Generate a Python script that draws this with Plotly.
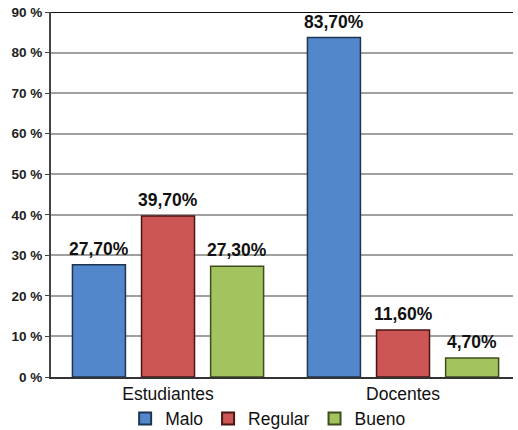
import plotly.graph_objects as go

categories = ["Estudiantes", "Docentes"]
series_names = ["Malo", "Regular", "Bueno"]
malo = [27.7, 83.7]
regular = [39.7, 11.6]
bueno = [27.3, 4.7]
values = [malo, regular, bueno]
colors = ["#5287CC", "#CC5555", "#A2C35E"]
edge_colors = ["#1F3450", "#4A1515", "#3D4D1C"]
y_ticks = [0, 10, 20, 30, 40, 50, 60, 70, 80, 90]
y_tick_labels = [f"{v} %" for v in y_ticks]

def fmt(v):
    return f"{v:.2f}".replace(".", ",") + "%"

bargap = 0.118
bargroupgap = 0.233
slot = (1 - bargap) / 3

fig = go.Figure()
xs = list(range(len(categories)))
for i, (name, vals) in enumerate(zip(series_names, values)):
    fig.add_trace(go.Bar(
        x=xs, y=vals, name=name,
        marker=dict(color=colors[i], line=dict(color=edge_colors[i], width=1.5)),
    ))
    off = (i - 1) * slot
    for x, v in zip(xs, vals):
        fig.add_annotation(x=x + off, y=v, text=fmt(v), showarrow=False,
                           yanchor="bottom", yshift=4,
                           font=dict(family="Arial", size=17.5, color="#111", weight="bold"))

fig.add_shape(type="line", xref="paper", yref="y", x0=0, x1=1, y0=90, y1=90,
              line=dict(color="#111", width=2))

fig.update_layout(
    width=518, height=430,
    margin=dict(l=51, r=5, t=12, b=53, autoexpand=False),
    paper_bgcolor="white", plot_bgcolor="white",
    barmode="group", bargap=bargap, bargroupgap=bargroupgap,
    font=dict(family="Arial", color="#111"),
    showlegend=True,
    legend=dict(orientation="h", x=0.47, xanchor="center", y=-0.114, yanchor="middle",
                bgcolor="rgba(0,0,0,0)",
                font=dict(family="Arial", size=17.5, color="#111"),
                itemwidth=30, tracegroupgap=0, itemsizing="constant"),
    xaxis=dict(range=[-0.498, 1.468], tickvals=xs, ticktext=categories,
               showgrid=False, zeroline=False, showline=True, linecolor="#333", linewidth=2,
               tickfont=dict(family="Arial", size=17.5, color="#111"), ticks="", automargin=False),
    yaxis=dict(range=[0, 90], tickvals=y_ticks, ticktext=y_tick_labels,
               showgrid=True, gridcolor="#A0A0A0", gridwidth=1.5, zeroline=False,
               showline=True, linecolor="#444", linewidth=2,
               ticks="outside", ticklen=4, tickcolor="#444", automargin=False,
               tickfont=dict(family="Arial", size=13.5, color="#222", weight="bold")),
)

fig.write_html("out.html")
